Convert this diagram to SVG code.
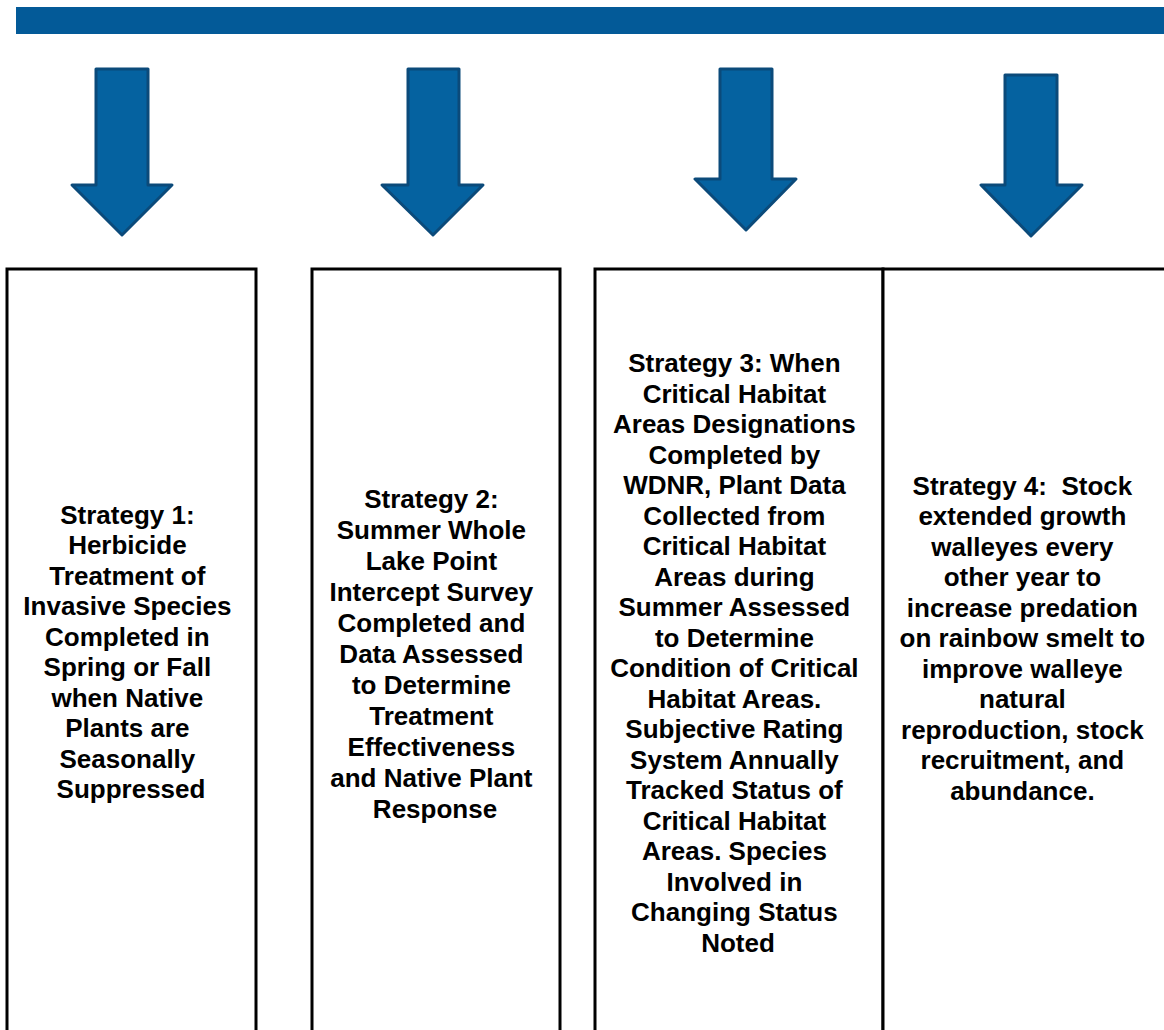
<svg xmlns="http://www.w3.org/2000/svg" width="1164" height="1030" viewBox="0 0 1164 1030">
<style>
.arrow{fill:#0562a0;stroke:#0b4a7a;stroke-width:3;stroke-linejoin:round}
.box{fill:#ffffff;stroke:#000000;stroke-width:3}
.t{font-family:"Liberation Sans",Arial,sans-serif;font-weight:bold;font-size:26px;fill:#000000;text-anchor:middle}
</style>
<rect width="1164" height="1030" fill="#ffffff"/>
<g id="topbar"><rect x="16" y="7" width="1150" height="27" fill="#035a98"/></g>
<g id="connectors">
<path class="arrow" d="M96,69 H148 V185 H172 L122,235 L72,185 H96 Z"/>
<path class="arrow" d="M408,69 H459 V185 H483 L433,235 L382,185 H408 Z"/>
<path class="arrow" d="M720,69 H772 V179 H796 L746,230 L695,179 H720 Z"/>
<path class="arrow" d="M1005,75 H1057 V185 H1082 L1031,236 L981,185 H1005 Z"/>
</g>
<g id="node1">
<rect class="box" x="7" y="269" width="249" height="780"/>
<text class="t" x="131" y="523.5">
<tspan x="131">Strategy 1:</tspan>
<tspan x="131" dy="30.5">Herbicide</tspan>
<tspan x="131" dy="30.5">Treatment of</tspan>
<tspan x="131" dy="30.5">Invasive Species</tspan>
<tspan x="131" dy="30.5">Completed in</tspan>
<tspan x="131" dy="30.5">Spring or Fall</tspan>
<tspan x="131" dy="30.5">when Native</tspan>
<tspan x="131" dy="30.5">Plants are</tspan>
<tspan x="131" dy="30.5">Seasonally</tspan>
<tspan x="131" dy="30.5">Suppressed</tspan>
</text>
</g>
<g id="node2">
<rect class="box" x="312" y="269" width="248" height="780"/>
<text class="t" x="435" y="507.5">
<tspan x="435">Strategy 2:</tspan>
<tspan x="435" dy="31">Summer Whole</tspan>
<tspan x="435" dy="31">Lake Point</tspan>
<tspan x="435" dy="31">Intercept Survey</tspan>
<tspan x="435" dy="31">Completed and</tspan>
<tspan x="435" dy="31">Data Assessed</tspan>
<tspan x="435" dy="31">to Determine</tspan>
<tspan x="435" dy="31">Treatment</tspan>
<tspan x="435" dy="31">Effectiveness</tspan>
<tspan x="435" dy="31">and Native Plant</tspan>
<tspan x="435" dy="31">Response</tspan>
</text>
</g>
<g id="node3">
<rect class="box" x="595" y="269" width="288" height="780"/>
<text class="t" x="738" y="372">
<tspan x="738">Strategy 3: When</tspan>
<tspan x="738" dy="30.5">Critical Habitat</tspan>
<tspan x="738" dy="30.5">Areas Designations</tspan>
<tspan x="738" dy="30.5">Completed by</tspan>
<tspan x="738" dy="30.5">WDNR, Plant Data</tspan>
<tspan x="738" dy="30.5">Collected from</tspan>
<tspan x="738" dy="30.5">Critical Habitat</tspan>
<tspan x="738" dy="30.5">Areas during</tspan>
<tspan x="738" dy="30.5">Summer Assessed</tspan>
<tspan x="738" dy="30.5">to Determine</tspan>
<tspan x="738" dy="30.5">Condition of Critical</tspan>
<tspan x="738" dy="30.5">Habitat Areas.</tspan>
<tspan x="738" dy="30.5">Subjective Rating</tspan>
<tspan x="738" dy="30.5">System Annually</tspan>
<tspan x="738" dy="30.5">Tracked Status of</tspan>
<tspan x="738" dy="30.5">Critical Habitat</tspan>
<tspan x="738" dy="30.5">Areas. Species</tspan>
<tspan x="738" dy="30.5">Involved in</tspan>
<tspan x="738" dy="30.5">Changing Status</tspan>
<tspan x="738" dy="30.5">Noted</tspan>
</text>
</g>
<g id="node4">
<rect class="box" x="883" y="269" width="290" height="780"/>
<text class="t" x="1026" y="494.5" xml:space="preserve">
<tspan x="1026">Strategy 4:  Stock</tspan>
<tspan x="1026" dy="30.5">extended growth</tspan>
<tspan x="1026" dy="30.5">walleyes every</tspan>
<tspan x="1026" dy="30.5">other year to</tspan>
<tspan x="1026" dy="30.5">increase predation</tspan>
<tspan x="1026" dy="30.5">on rainbow smelt to</tspan>
<tspan x="1026" dy="30.5">improve walleye</tspan>
<tspan x="1026" dy="30.5">natural</tspan>
<tspan x="1026" dy="30.5">reproduction, stock</tspan>
<tspan x="1026" dy="30.5">recruitment, and</tspan>
<tspan x="1026" dy="30.5">abundance.</tspan>
</text>
</g>
</svg>
